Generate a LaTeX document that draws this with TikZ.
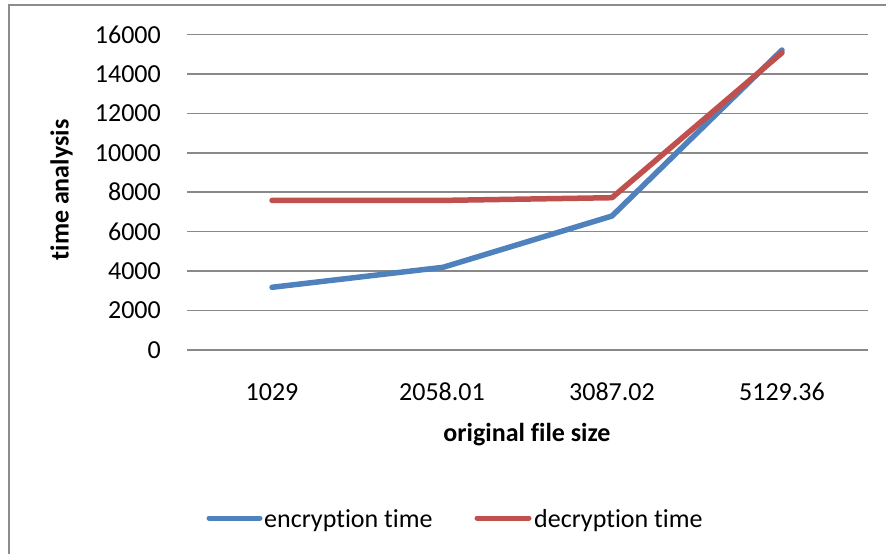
\documentclass[tikz,border=0pt]{standalone}
\usepackage{fontspec}
\setmainfont[Ligatures=NoCommon]{Carlito}
\definecolor{encblue}{HTML}{4F81BD}
\definecolor{decred}{HTML}{C0504D}
\definecolor{gridgray}{HTML}{898989}
\definecolor{framegray}{HTML}{8C8C8C}
\tikzset{
  gridline/.style={gridgray, line width=1.6pt},
  series/.style={line width=5.5pt, line cap=round, line join=round},
  ticklabel/.style={inner sep=0pt, font=\fontsize{26}{30}\selectfont},
  axistitle/.style={inner sep=0pt, font=\fontsize{26}{30}\selectfont\bfseries},
  legendtext/.style={inner sep=0pt, anchor=base west, font=\fontsize{26}{30}\selectfont},
  legendline/.style={line width=5pt, line cap=round},
}
\begin{document}
\begin{tikzpicture}[x=1pt, y=-1pt]
  \useasboundingbox (0,0) rectangle (886,554);
  % chart frame (open towards right and bottom)
  \draw[framegray, line width=2pt] (9.3,560) -- (9.3,4.7) -- (892,4.7);

  % horizontal grid and value axis labels, 2000 per 39.45 px
  \foreach \v [count=\i from 0] in {0,2000,4000,6000,8000,10000,12000,14000,16000} {
    \draw[gridline] (187,{350-39.45*\i}) -- (867.5,{350-39.45*\i});
    \node[ticklabel, anchor=east] (y\i) at (161,{350-39.45*\i}) {\v};
  }

  % category labels
  \node[ticklabel, anchor=base] (c1) at (272,400.7) {1029};
  \node[ticklabel, anchor=base] (c2) at (442,400.7) {2058.01};
  \node[ticklabel, anchor=base] (c3) at (612,400.7) {3087.02};
  \node[ticklabel, anchor=base] (c4) at (782,400.7) {5129.36};

  % axis titles
  \node[axistitle, anchor=base] (xt) at (527,441.7) {original file size};
  \node[axistitle, anchor=base, rotate=90] (yt) at (68.5,190) {time analysis};

  % data points
  \coordinate (e1) at (272,287.3);
  \coordinate (e2) at (443,267.3);
  \coordinate (e3) at (612,216);
  \coordinate (e4) at (782,50);
  \coordinate (d1) at (272,200.4);
  \coordinate (d2) at (443,200.4);
  \coordinate (d3) at (612,197.7);
  \coordinate (d4) at (782,52.7);

  \draw[series, encblue] (e1) -- (e2) -- (e3) -- (e4);
  \draw[series, decred] (d1) -- (d2) -- (d3) -- (d4);

  % legend
  \coordinate (l1a) at (209,518);
  \coordinate (l1b) at (260,518);
  \coordinate (l2a) at (477,518);
  \coordinate (l2b) at (529,518);
  \draw[legendline, encblue] (l1a) -- (l1b);
  \node[legendtext] (lt1) at (264,527) {encryption time};
  \draw[legendline, decred] (l2a) -- (l2b);
  \node[legendtext] (lt2) at (534,527) {decryption time};
\end{tikzpicture}
\end{document}
